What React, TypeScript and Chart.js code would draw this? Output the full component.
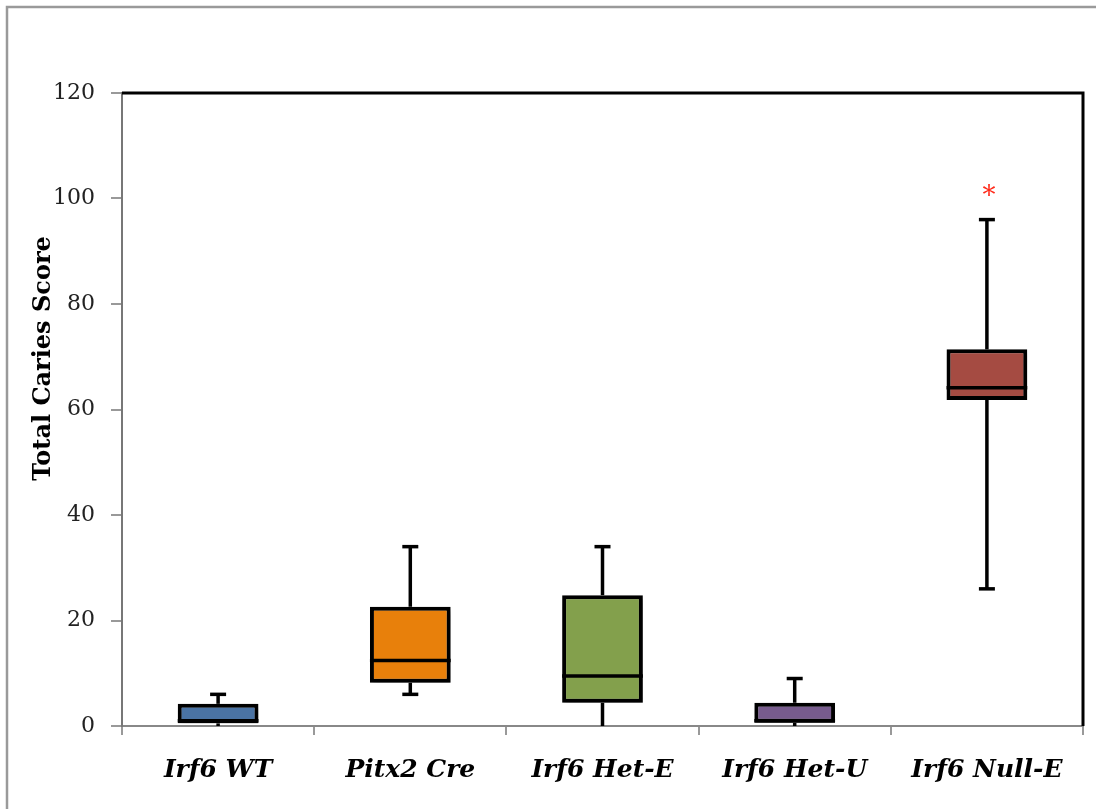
import React, { useEffect, useRef } from "react";
import { Chart, registerables } from "chart.js";

Chart.register(...registerables);

const categories = ["Irf6 WT", "Pitx2 Cre", "Irf6 Het-E", "Irf6 Het-U", "Irf6 Null-E"];
const whiskerLow = [0, 6, 0, 0, 26];
const quartile1 = [0.5, 8.2, 4.4, 0.6, 61.8];
const medians = [1, 12.4, 9.5, 1, 64.1];
const quartile3 = [4.2, 22.6, 24.8, 4.4, 71.4];
const whiskerHigh = [6, 34, 34, 9, 96];
const boxColors = ["#4A73A4", "#E8800B", "#83A04C", "#775B8D", "#A54B42"];
const significance = ["", "", "", "", "*"];
const yTicks = [0, 20, 40, 60, 80, 100, 120];
const yTitle = "Total Caries Score";

const SERIF = "'DejaVu Serif', serif";

const boxPlugin = {
  id: "boxExtras",
  beforeDraw(chart: any) {
    const ctx = chart.ctx;
    ctx.save();
    ctx.strokeStyle = "#9a9a9a";
    ctx.lineWidth = 2.5;
    ctx.beginPath();
    ctx.moveTo(7, chart.height);
    ctx.lineTo(7, 7);
    ctx.lineTo(chart.width, 7);
    ctx.stroke();
    // y axis title, centred on the value 68 of the y scale as in the reference
    const y = chart.scales.y;
    ctx.translate(44, (y.getPixelForValue(120) + y.getPixelForValue(0)) / 2 - 51);
    ctx.rotate(-Math.PI / 2);
    ctx.fillStyle = "#000";
    ctx.font = "bold 24px " + SERIF;
    ctx.textAlign = "center";
    ctx.textBaseline = "middle";
    ctx.fillText(yTitle, 0, 0);
    ctx.restore();
  },
  beforeDatasetsDraw(chart: any) {
    const ctx = chart.ctx;
    const x = chart.scales.x;
    const y = chart.scales.y;
    ctx.save();
    ctx.strokeStyle = "#000";
    ctx.lineWidth = 3.5;
    ctx.lineCap = "butt";
    categories.forEach((_, i) => {
      const cx = x.getPixelForValue(i);
      const cap = 8;
      ctx.beginPath();
      ctx.moveTo(cx, y.getPixelForValue(quartile3[i]));
      ctx.lineTo(cx, y.getPixelForValue(whiskerHigh[i]));
      ctx.stroke();
      ctx.beginPath();
      ctx.moveTo(cx - cap, y.getPixelForValue(whiskerHigh[i]));
      ctx.lineTo(cx + cap, y.getPixelForValue(whiskerHigh[i]));
      ctx.stroke();
      if (whiskerLow[i] < quartile1[i]) {
        ctx.beginPath();
        ctx.moveTo(cx, y.getPixelForValue(quartile1[i]));
        ctx.lineTo(cx, y.getPixelForValue(whiskerLow[i]));
        ctx.stroke();
        if (whiskerLow[i] > 0) {
          ctx.beginPath();
          ctx.moveTo(cx - cap, y.getPixelForValue(whiskerLow[i]));
          ctx.lineTo(cx + cap, y.getPixelForValue(whiskerLow[i]));
          ctx.stroke();
        }
      }
    });
    ctx.restore();
  },
  beforeDatasetDraw(chart: any) {
    const ctx = chart.ctx;
    ctx.save();
    ctx.shadowColor = "rgba(0,0,0,0.4)";
    ctx.shadowBlur = 7;
    ctx.shadowOffsetX = 2;
    ctx.shadowOffsetY = 4;
  },
  afterDatasetDraw(chart: any) {
    chart.ctx.restore();
  },
  afterDatasetsDraw(chart: any) {
    const ctx = chart.ctx;
    const x = chart.scales.x;
    const y = chart.scales.y;
    const meta = chart.getDatasetMeta(0);
    ctx.save();
    ctx.strokeStyle = "#000";
    ctx.lineWidth = 3.5;
    categories.forEach((_, i) => {
      const bar = meta.data[i];
      const half = bar.width / 2;
      const cx = x.getPixelForValue(i);
      const my = y.getPixelForValue(medians[i]);
      ctx.beginPath();
      ctx.moveTo(cx - half, my);
      ctx.lineTo(cx + half, my);
      ctx.stroke();
      if (significance[i]) {
        ctx.fillStyle = "#FF2A1A";
        ctx.font = "26px " + SERIF;
        ctx.textAlign = "center";
        ctx.textBaseline = "middle";
        ctx.fillText(significance[i], cx + 2, y.getPixelForValue(whiskerHigh[i]) - 22);
      }
    });
    const a = chart.chartArea;
    ctx.strokeStyle = "#000";
    ctx.lineWidth = 3;
    ctx.beginPath();
    ctx.moveTo(a.left, a.top);
    ctx.lineTo(a.right, a.top);
    ctx.lineTo(a.right, a.bottom);
    ctx.stroke();
    ctx.restore();
  },
};

export default function App() {
  const ref = useRef<HTMLCanvasElement>(null);
  useEffect(() => {
    document.body.style.margin = "0";
    const chart = new Chart(ref.current!, {
      type: "bar",
      data: {
        labels: categories,
        datasets: [
          {
            data: quartile1.map((v, i) => [v, quartile3[i]]) as any,
            backgroundColor: boxColors,
            borderColor: "#000",
            borderWidth: 4,
            borderSkipped: false,
            categoryPercentage: 1,
            barPercentage: 0.42,
          },
        ],
      },
      options: {
        animation: false,
        responsive: true,
        maintainAspectRatio: false,
        layout: { padding: { left: 0, top: 93, right: 13, bottom: 0 } },
        plugins: { legend: { display: false }, tooltip: { enabled: false } },
        scales: {
          x: {
            grid: {
              offset: true,
              drawOnChartArea: false,
              drawTicks: true,
              tickLength: 9,
              color: "#999",
              lineWidth: 2,
            },
            border: { display: true, color: "#888", width: 2 },
            ticks: {
              padding: 20,
              color: "#000",
              font: { family: SERIF, size: 25, style: "italic", weight: "bold" },
            },
            afterFit(scale: any) {
              scale.height = 83;
            },
          },
          y: {
            min: 0,
            max: 120,
            afterBuildTicks(scale: any) {
              scale.ticks = yTicks.map((v) => ({ value: v }));
            },
            grid: {
              drawOnChartArea: false,
              drawTicks: true,
              tickLength: 11,
              color: "#999",
              lineWidth: 2,
            },
            border: { display: true, color: "#777", width: 2 },
            ticks: {
              padding: 16,
              color: "#222",
              font: { family: SERIF, size: 22 },
            },
            afterFit(scale: any) {
              scale.width = 122;
            },
          },
        },
      },
      plugins: [boxPlugin],
    });
    return () => chart.destroy();
  }, []);
  return (
    <div style={{ width: 1096, height: 809, position: "relative" }}>
      <canvas ref={ref} />
    </div>
  );
}
